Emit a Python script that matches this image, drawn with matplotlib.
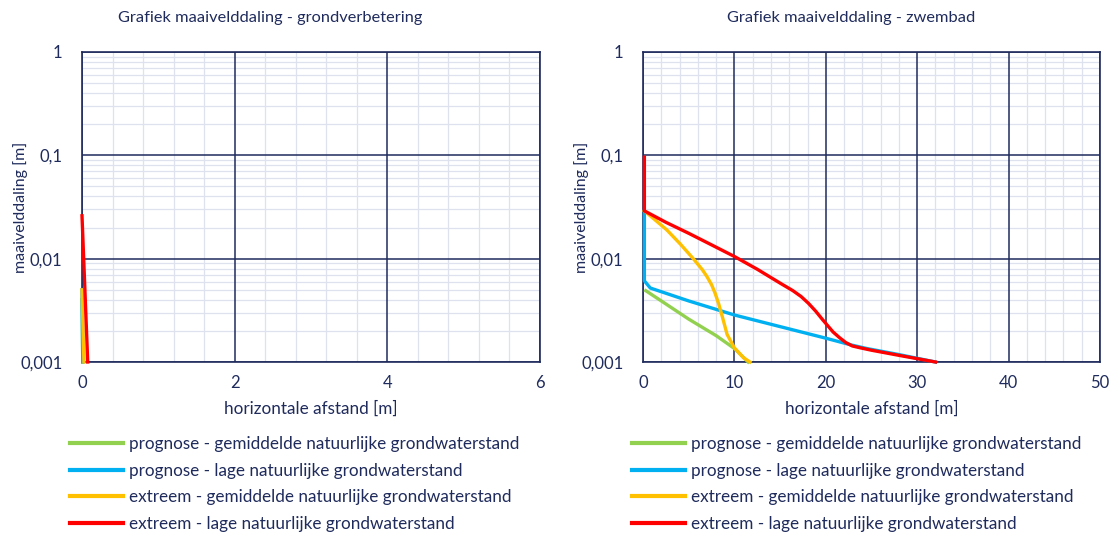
import matplotlib
matplotlib.use("Agg")
import matplotlib.pyplot as plt
from matplotlib.ticker import MultipleLocator, LogLocator, FixedLocator, FixedFormatter, NullFormatter
from matplotlib.lines import Line2D

# series names and colours (Excel standard palette)
SERIES = ["prognose - gemiddelde natuurlijke grondwaterstand",
          "prognose - lage natuurlijke grondwaterstand",
          "extreem - gemiddelde natuurlijke grondwaterstand",
          "extreem - lage natuurlijke grondwaterstand"]
COLORS = ["#92d050", "#00b0f0", "#ffc000", "#ff0000"]

# left chart: grondverbetering (x in m, y in m)
gv_green_x = [0.0, 0.01]
gv_green_y = [0.004, 0.001]
gv_blue_x = [0.0, 0.01]
gv_blue_y = [0.005, 0.001]
gv_yellow_x = [0.0, 0.025]
gv_yellow_y = [0.005, 0.001]
gv_red_x = [0.0, 0.075]
gv_red_y = [0.026, 0.001]

# right chart: zwembad
zb_green_x = [0.3, 2.0, 5.0, 8.0, 10.0, 11.5]
zb_green_y = [0.0049, 0.0039, 0.0026, 0.0018, 0.00135, 0.001]
zb_blue_x = [0.15, 0.15, 0.8, 5.0, 10.0, 15.0, 20.0, 22.8, 24.5, 28.0, 32.0]
zb_blue_y = [0.029, 0.0061, 0.0052, 0.0039, 0.00285, 0.0022, 0.0017, 0.00146, 0.00135, 0.00118, 0.001]
zb_yellow_x = [0.15, 1.3, 2.6, 4.1, 5.5, 6.5, 7.0, 7.5, 7.9, 8.3, 8.7, 9.2, 10.0, 11.0, 11.7]
zb_yellow_y = [0.029, 0.0238, 0.019, 0.0138, 0.0100, 0.0078, 0.0067, 0.0056, 0.0046, 0.0036,
               0.0027, 0.00185, 0.00137, 0.0011, 0.001]
zb_red_x = [0.15, 0.15, 2.5, 5.0, 7.5, 10.0, 12.5, 15.0, 16.4, 17.3, 18.1, 18.9, 19.6, 20.2,
            20.8, 21.5, 22.2, 22.9, 23.8, 25.0, 28.0, 32.0]
zb_red_y = [0.096, 0.029, 0.0225, 0.0176, 0.0136, 0.0105, 0.0079, 0.0058, 0.0049, 0.0043,
            0.0037, 0.0031, 0.0026, 0.00225, 0.00195, 0.00172, 0.00154, 0.00143, 0.00137,
            0.0013, 0.00116, 0.001]

YTICKS = [0.001, 0.01, 0.1, 1]
YTICKLABELS = ["0,001", "0,01", "0,1", "1"]

NAVY = "#1f2b5c"
MINOR = "#dde2ee"

plt.rcParams["font.family"] = ["Lato", "DejaVu Sans"]

fig = plt.figure(figsize=(11.17, 5.33), dpi=100)


def setup(ax, xmax, xmajor, xminor):
    ax.set_yscale("log")
    ax.set_ylim(0.001, 1)
    ax.set_xlim(0, xmax)
    ax.xaxis.set_major_locator(MultipleLocator(xmajor))
    ax.xaxis.set_minor_locator(MultipleLocator(xminor))
    ax.yaxis.set_major_locator(FixedLocator(YTICKS))
    ax.yaxis.set_major_formatter(FixedFormatter(YTICKLABELS))
    ax.yaxis.set_minor_locator(LogLocator(base=10, subs=range(2, 10)))
    ax.yaxis.set_minor_formatter(NullFormatter())
    ax.grid(True, which="minor", color=MINOR, linewidth=0.9, zorder=0)
    # major grid drawn on top of the light minor grid
    for xv in range(0, xmax + 1, xmajor):
        ax.axvline(xv, color=NAVY, linewidth=1.1, zorder=1)
    for yv in YTICKS:
        ax.axhline(yv, color=NAVY, linewidth=1.1, zorder=1)
    ax.set_axisbelow(True)
    ax.tick_params(which="both", length=0, labelsize=12, colors=NAVY)
    ax.tick_params(axis="x", pad=9)
    ax.tick_params(axis="y", pad=14)
    for s in ax.spines.values():
        s.set_color(NAVY)
        s.set_linewidth(1.2)
        s.set_zorder(2)
    ax.set_xlabel("horizontale afstand [m]", fontsize=12.3, color=NAVY, labelpad=7)


ax1 = fig.add_axes([82 / 1117, 1 - 362 / 533, 458 / 1117, 310 / 533])
ax2 = fig.add_axes([643 / 1117, 1 - 362 / 533, 457 / 1117, 310 / 533])
setup(ax1, 6, 2, 0.4)
setup(ax2, 50, 10, 2)

left = [(gv_green_x, gv_green_y), (gv_blue_x, gv_blue_y),
        (gv_yellow_x, gv_yellow_y), (gv_red_x, gv_red_y)]
right = [(zb_green_x, zb_green_y), (zb_blue_x, zb_blue_y),
         (zb_yellow_x, zb_yellow_y), (zb_red_x, zb_red_y)]

for (x, y), c in zip(left, COLORS):
    ax1.plot(x, y, color=c, linewidth=2.4, zorder=3, clip_on=False,
             solid_joinstyle="round")
for (x, y), c in zip(right, COLORS):
    ax2.plot(x, y, color=c, linewidth=2.4, zorder=3, clip_on=False,
             solid_joinstyle="round")

for xc in (21, 582):
    fig.text(xc / 1117, 1 - 207 / 533, "maaivelddaling [m]", rotation=90,
             ha="center", va="center", fontsize=11.5, color=NAVY)

fig.text(270 / 1117, 1 - 18 / 533, "Grafiek maaivelddaling - grondverbetering",
         ha="center", va="center", fontsize=11.8, color=NAVY)
fig.text(851 / 1117, 1 - 18 / 533, "Grafiek maaivelddaling - zwembad",
         ha="center", va="center", fontsize=11.8, color=NAVY)

handles = [Line2D([], [], color=c, linewidth=3) for c in COLORS]
for x0 in (70, 632):
    fig.legend(handles, SERIES, loc="upper left",
               bbox_to_anchor=(x0 / 1117, 1 - 436 / 533),
               bbox_transform=fig.transFigure, frameon=False,
               borderpad=0, borderaxespad=0, handlelength=3.1,
               handletextpad=0.35, labelspacing=0.62, fontsize=12.3,
               labelcolor=NAVY)

fig.savefig("out.png", dpi=100)
